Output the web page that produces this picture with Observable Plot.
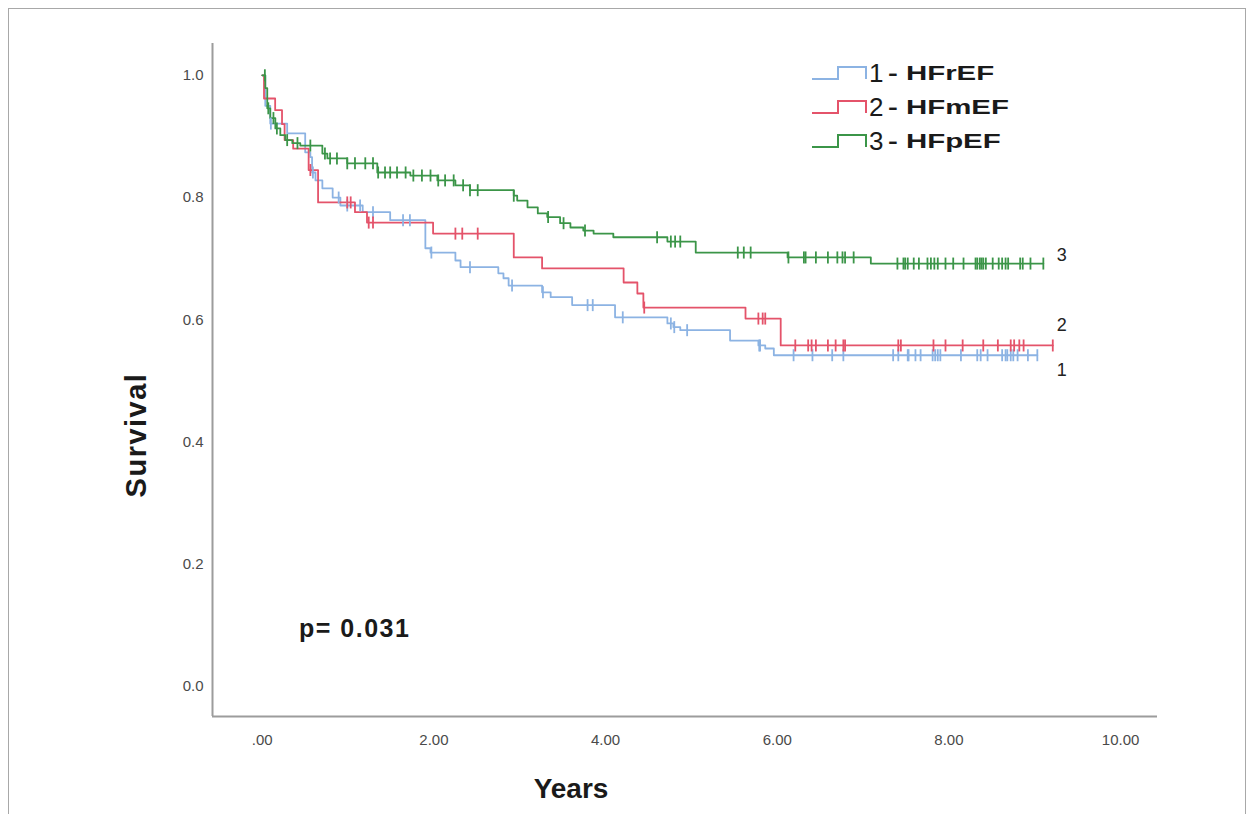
<!DOCTYPE html>
<html>
<head>
<meta charset="utf-8">
<script src="https://cdn.jsdelivr.net/npm/d3@7"></script>
<script src="https://cdn.jsdelivr.net/npm/@observablehq/plot@0.6"></script>
<style>
  body { margin: 0; background: #fff; font-family: "Liberation Sans", Arial, sans-serif; }
  #wrap { position: relative; width: 1255px; height: 814px; overflow: hidden; background: #fff; }
  #border { position: absolute; left: 8px; top: 8px; width: 1238px; height: 840px; border: 1px solid #a8a8a8; box-sizing: border-box; }
  #chart { position: absolute; left: 0; top: 0; }
  #legend { position: absolute; left: 811px; top: 56px; }
  .row { display: flex; align-items: center; height: 34px; white-space: nowrap; }
  .row svg { display: block; }
  .num { font-size: 26px; color: #1a1a1a; margin-left: 0px; }
  .name { font-size: 21px; font-weight: bold; color: #1a1a1a; display: inline-block; transform: scaleX(1.4); transform-origin: left center; margin-left: 5px; }
  .title { position: absolute; font-weight: bold; color: #1a1a1a; white-space: nowrap; }
</style>
</head>
<body>
<div id="wrap">
  <div id="border"></div>
  <div id="chart"></div>
  <div id="legend"></div>
  <div class="title" id="ylab" style="font-size:29px; left:136px; top:435px; transform: translate(-50%,-50%) rotate(-90deg); letter-spacing:1.5px;">Survival</div>
  <div class="title" id="xlab" style="font-size:28px; left:571px; top:789px; transform: translate(-50%,-50%);">Years</div>
  <div class="title" id="pval" style="font-size:25px; left:299px; top:614px; letter-spacing:1.5px;">p= 0.031</div>
</div>
<script>
// ---- data ----
const groups = ["1 - HFrEF", "2 - HFmEF", "3 - HFpEF"];
const groupNums = ["1", "2", "3"];
const colors = ["#8cb3e3", "#e4536a", "#3b9548"];

// HFrEF (1)
const blueTimes = [0.035, 0.093, 0.29, 0.50, 0.56, 0.58, 0.62, 0.70, 0.82, 0.91, 1.17, 1.49, 1.90, 1.96, 2.25, 2.31, 2.75, 2.81, 2.87, 3.26, 3.36, 3.61, 4.11, 4.72, 4.79, 4.87, 5.45, 5.78, 5.86, 5.96];
const blueSurv  = [0.950, 0.921, 0.905, 0.874, 0.866, 0.841, 0.828, 0.815, 0.800, 0.787, 0.776, 0.763, 0.717, 0.710, 0.697, 0.686, 0.676, 0.668, 0.656, 0.645, 0.637, 0.624, 0.604, 0.594, 0.588, 0.583, 0.566, 0.558, 0.553, 0.542];
const blueEnd = 9.03;
const blueCensor = [0.10, 0.59, 0.89, 0.99, 1.14, 1.29, 1.64, 1.72, 1.97, 2.42, 2.91, 3.27, 3.79, 3.85, 4.20, 4.76, 4.80, 4.95, 5.79, 5.80, 6.19, 6.41, 6.64, 6.77, 7.35, 7.41, 7.52, 7.53, 7.61, 7.67, 7.81, 7.84, 7.87, 7.90, 8.14, 8.33, 8.37, 8.45, 8.62, 8.66, 8.68, 8.72, 8.75, 8.80, 8.92, 9.03];

// HFmEF (2)
const redTimes = [0.02, 0.15, 0.23, 0.26, 0.36, 0.54, 0.65, 1.08, 1.22, 1.99, 2.93, 3.26, 4.21, 4.37, 4.44, 5.63, 6.04];
const redSurv  = [0.962, 0.943, 0.920, 0.894, 0.880, 0.845, 0.792, 0.776, 0.759, 0.741, 0.702, 0.684, 0.661, 0.643, 0.620, 0.602, 0.558];
const redEnd = 9.21;
const redCensor = [0.56, 0.99, 1.03, 1.24, 1.29, 2.25, 2.33, 2.51, 4.45, 5.78, 5.83, 5.86, 6.21, 6.36, 6.40, 6.45, 6.59, 6.68, 6.77, 6.79, 7.41, 7.44, 7.82, 7.96, 8.16, 8.40, 8.57, 8.72, 8.76, 8.82, 8.87, 9.21];

// HFpEF (3)
const greenTimes = [0.035, 0.058, 0.093, 0.152, 0.21, 0.268, 0.35, 0.443, 0.70, 0.758, 0.99, 1.34, 1.725, 2.04, 2.25, 2.42, 2.93, 2.97, 3.09, 3.21, 3.32, 3.47, 3.59, 3.74, 3.86, 4.09, 4.72, 5.05, 6.12, 7.09];
const greenSurv  = [0.979, 0.946, 0.930, 0.913, 0.902, 0.894, 0.889, 0.885, 0.872, 0.864, 0.856, 0.841, 0.836, 0.828, 0.820, 0.812, 0.803, 0.795, 0.784, 0.774, 0.768, 0.758, 0.751, 0.746, 0.741, 0.735, 0.728, 0.710, 0.702, 0.692];
const greenEnd = 9.10;
const greenCensor = [0.03, 0.07, 0.13, 0.17, 0.29, 0.41, 0.56, 0.73, 0.79, 0.87, 0.99, 1.08, 1.20, 1.29, 1.35, 1.43, 1.49, 1.57, 1.67, 1.76, 1.86, 1.96, 2.05, 2.13, 2.23, 2.34, 2.42, 2.51, 2.93, 3.33, 3.51, 3.76, 4.60, 4.76, 4.81, 4.87, 5.54, 5.61, 5.69, 6.13, 6.31, 6.33, 6.45, 6.59, 6.70, 6.76, 6.79, 6.89, 7.40, 7.47, 7.49, 7.52, 7.59, 7.65, 7.75, 7.79, 7.83, 7.87, 7.96, 8.05, 8.17, 8.31, 8.33, 8.36, 8.38, 8.40, 8.43, 8.51, 8.58, 8.62, 8.66, 8.69, 8.83, 8.86, 8.95, 9.10];

const xTicks = [0, 2, 4, 6, 8, 10];
const yTicks = [0, 0.2, 0.4, 0.6, 0.8, 1.0];
const xDomain = [-0.58, 10.43];
const yDomain = [-0.049, 1.052];

// ---- build tables ----
const series = [
  {g: groups[0], n: groupNums[0], times: blueTimes, surv: blueSurv, end: blueEnd, censor: blueCensor},
  {g: groups[1], n: groupNums[1], times: redTimes, surv: redSurv, end: redEnd, censor: redCensor},
  {g: groups[2], n: groupNums[2], times: greenTimes, surv: greenSurv, end: greenEnd, censor: greenCensor}
];

const steps = [];
const censors = [];
const ends = [];
for (const s of series) {
  steps.push({g: s.g, t: 0, s: 1});
  s.times.forEach((t, i) => steps.push({g: s.g, t, s: s.surv[i]}));
  const last = s.surv[s.surv.length - 1];
  steps.push({g: s.g, t: s.end, s: last});
  const valueAt = (t) => {
    let v = 1;
    s.times.forEach((tt, i) => { if (tt <= t) v = s.surv[i]; });
    return v;
  };
  s.censor.forEach(t => censors.push({g: s.g, t, s: valueAt(t)}));
  ends.push({g: s.g, n: s.n, t: s.end, s: last});
}
const labelX = d3.max(ends, d => d.t);

const vbar = {
  draw(context, size) {
    const h = Math.sqrt(size / Math.PI);
    context.moveTo(0, -h);
    context.lineTo(0, h);
  }
};

const fmtX = d => d === 0 ? ".00" : d.toFixed(2);

const chart = Plot.plot({
  width: 1255,
  height: 814,
  marginLeft: 212,
  marginRight: 98,
  marginTop: 43,
  marginBottom: 98,
  style: {fontFamily: "'Liberation Sans', Arial, sans-serif", background: "transparent", overflow: "visible"},
  x: {domain: xDomain},
  y: {domain: yDomain},
  color: {domain: groups, range: colors},
  marks: [
    Plot.ruleX([xDomain[0]], {stroke: "#9c9c9c", strokeWidth: 2}),
    Plot.ruleY([yDomain[0]], {stroke: "#9c9c9c", strokeWidth: 2}),
    Plot.axisY(yTicks, {tickFormat: d3.format(".1f"), tickSize: 0, tickPadding: 9, fontSize: 15, color: "#4a4a4a", label: null}),
    Plot.axisX(xTicks, {tickFormat: fmtX, tickSize: 0, tickPadding: 18, fontSize: 15, color: "#4a4a4a", label: null}),
    Plot.line(steps, {x: "t", y: "s", z: "g", stroke: "g", curve: "step-after", strokeWidth: 1.8}),
    Plot.dot(censors, {x: "t", y: "s", stroke: "g", fill: "none", symbol: vbar, r: 6, strokeWidth: 1.8}),
    Plot.text(ends.filter(d => d.n === "3"), {x: () => labelX, y: "s", text: "n", dx: 4, dy: -8, textAnchor: "start", fontSize: 18, fill: "#222"}),
    Plot.text(ends.filter(d => d.n === "2"), {x: () => labelX, y: "s", text: "n", dx: 4, dy: -20, textAnchor: "start", fontSize: 18, fill: "#222"}),
    Plot.text(ends.filter(d => d.n === "1"), {x: () => labelX, y: "s", text: "n", dx: 4, dy: 15, textAnchor: "start", fontSize: 18, fill: "#222"})
  ]
});
document.getElementById("chart").appendChild(chart);

// ---- legend ----
const legend = document.getElementById("legend");
groups.forEach((g, i) => {
  const row = document.createElement("div");
  row.className = "row";
  const parts = g.split(" - ");
  row.innerHTML =
    `<svg width="58" height="20" viewBox="0 0 58 20"><path d="M1,16H27V4H55V16" fill="none" stroke="${colors[i]}" stroke-width="2"/></svg>` +
    `<span class="num">${parts[0]}</span><span class="name">- ${parts[1]}</span>`;
  legend.appendChild(row);
});
</script>
</body>
</html>
